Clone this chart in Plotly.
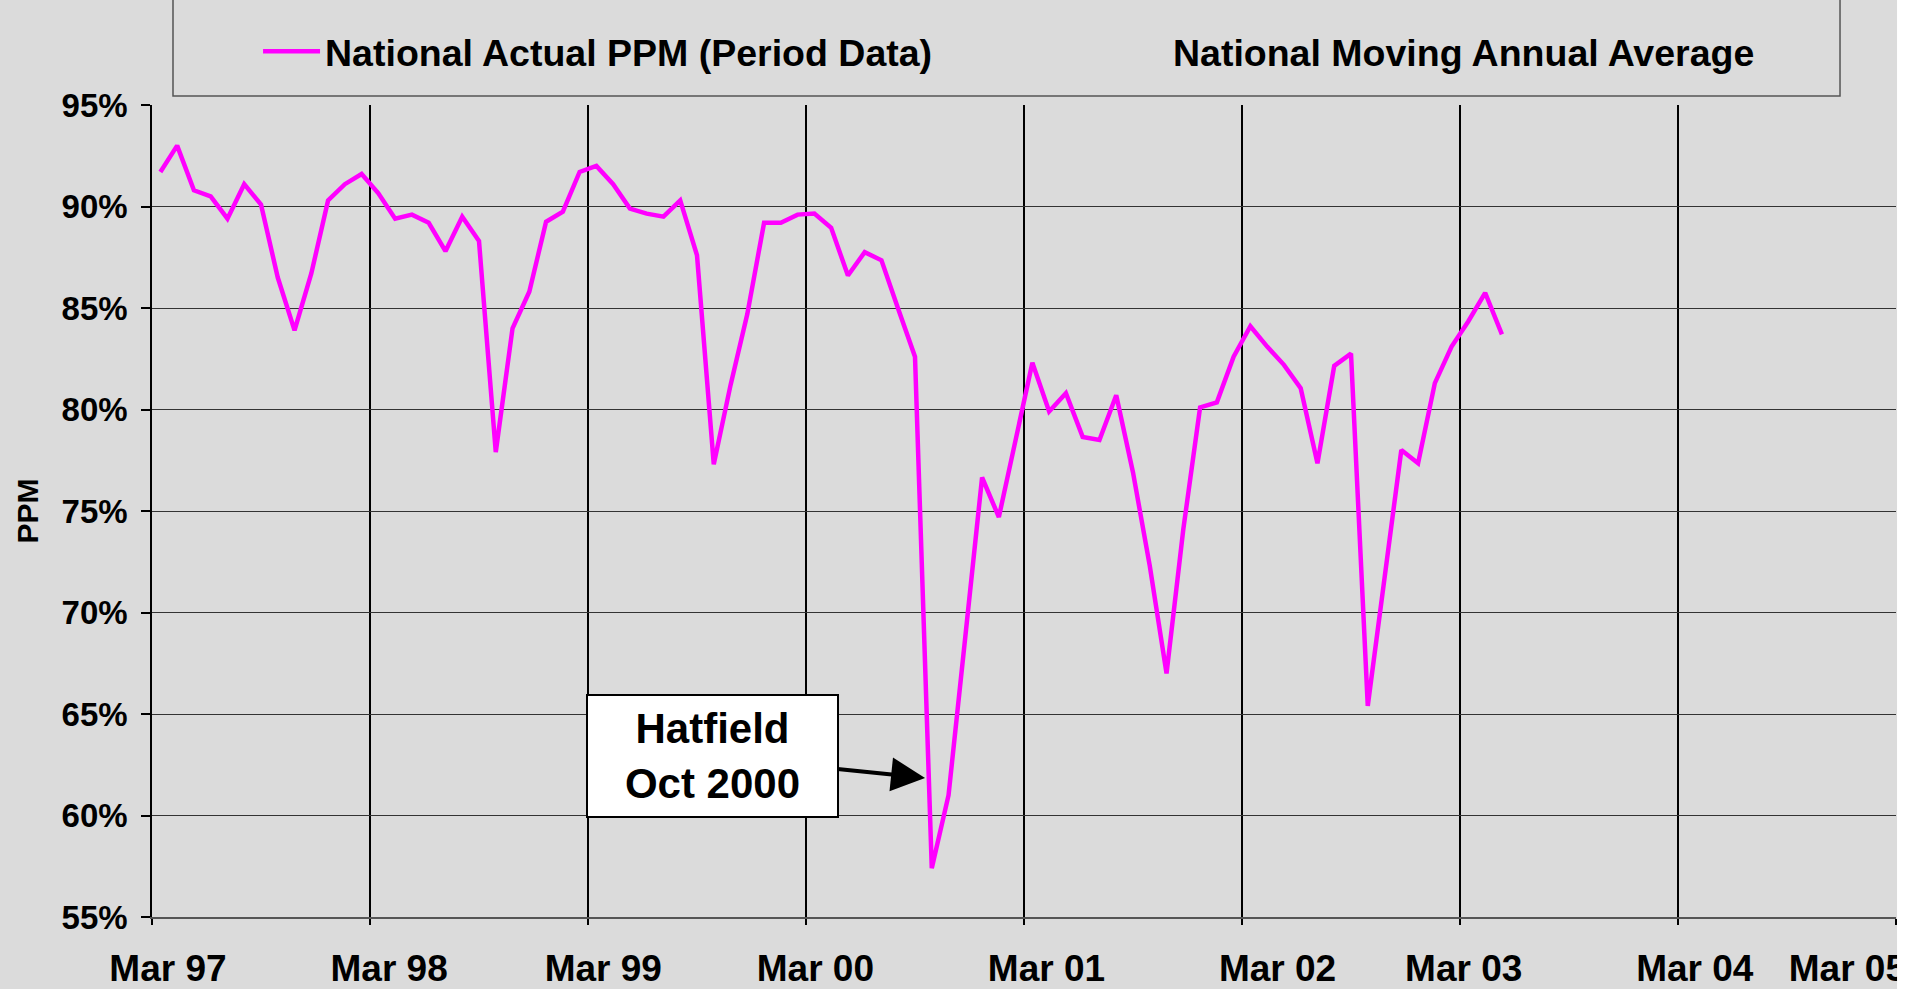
import plotly.graph_objects as go

# ---- data (4-weekly periods, 13 per year, starting Apr 1997) ----
fin_years = ["97/98", "98/99", "99/00", "00/01", "01/02", "02/03", "03/04"]
periods = [f"{fin_years[i // 13]} P{(i % 13) + 1:02d}" for i in range(81)]
ppm_actual = [
    91.7, 93.0, 90.8, 90.5, 89.4, 91.1, 90.1, 86.5, 83.9, 86.7, 90.3, 91.1, 91.6,
    90.65, 89.4, 89.6, 89.2, 87.8, 89.5, 88.3, 77.9, 84.0, 85.8, 89.25, 89.75, 91.7,
    92.0, 91.1, 89.9, 89.65, 89.5, 90.3, 87.6, 77.3, 81.2, 84.7, 89.2, 89.2, 89.6,
    89.65, 88.95, 86.6, 87.75, 87.35, 84.95, 82.6, 57.4, 61.0, 68.8, 76.65, 74.7, 78.6,
    82.3, 79.9, 80.8, 78.65, 78.5, 80.7, 76.9, 72.3, 67.0, 74.1, 80.1, 80.35,
    82.6, 84.1, 83.1, 82.2, 81.05, 77.35, 82.15, 82.75, 65.4, 71.7, 78.0, 77.35,
    81.3, 83.1, 84.35, 85.75, 83.7,
]
moving_annual_avg = [None]  # series listed in the legend but not drawn in the source chart

year_labels = ["Mar 97", "Mar 98", "Mar 99", "Mar 00", "Mar 01", "Mar 02", "Mar 03", "Mar 04", "Mar 05"]
year_label_pos = [0.45, 13.64, 26.41, 39.06, 52.84, 66.62, 77.72, 91.5, 100.6]
year_boundaries = [-0.5 + 13 * k for k in range(9)]

y_ticks = [55, 60, 65, 70, 75, 80, 85, 90, 95]
y_tick_labels = [f"{v}%" for v in y_ticks]

FONT = "Liberation Sans, Arial, sans-serif"
BG = "#DBDBDB"

x_idx = list(range(len(ppm_actual)))

fig = go.Figure()
fig.add_trace(go.Scatter(
    x=x_idx, y=ppm_actual, mode="lines", name="National Actual PPM (Period Data)",
    line=dict(color="#FF00FF", width=4.5), text=periods, xaxis="x", yaxis="y", legend="legend",
))
fig.add_trace(go.Scatter(
    x=moving_annual_avg, y=moving_annual_avg, mode="lines", name="National Moving Annual Average",
    line=dict(color="rgba(0,0,0,0)", width=4), xaxis="x2", yaxis="y", legend="legend2",
    showlegend=True,
))

legend_font = dict(family=FONT, size=37.5, color="black", weight="bold")

fig.update_layout(
    width=1923, height=989,
    margin=dict(l=152, r=27, t=105, b=72, pad=0),
    paper_bgcolor=BG, plot_bgcolor=BG,
    font=dict(family=FONT, color="black", weight="bold"),
    showlegend=True,
    legend=dict(
        orientation="h", x=0.0608, xanchor="left", y=1.066, yanchor="middle",
        font=legend_font, bgcolor="rgba(0,0,0,0)", borderwidth=0, itemwidth=57,
    ),
    legend2=dict(
        orientation="h", x=0.547, xanchor="left", y=1.066, yanchor="middle",
        font=legend_font, bgcolor="rgba(0,0,0,0)", borderwidth=0, itemwidth=57,
    ),
    xaxis=dict(
        range=[-0.5, 103.5], tickmode="array", tickvals=year_boundaries,
        showticklabels=False, ticks="outside", ticklen=6, tickcolor="black", tickwidth=1.5,
        showgrid=True, gridcolor="black", gridwidth=1.5, automargin=False,
        showline=True, linecolor="#555555", linewidth=2, zeroline=False,
    ),
    xaxis2=dict(
        range=[-0.5, 103.5], overlaying="x", anchor="y", side="bottom",
        tickmode="array", tickvals=year_label_pos, ticktext=year_labels,
        ticks="", showgrid=False, showline=False, zeroline=False, automargin=False,
        tickfont=dict(family=FONT, size=37, color="black", weight="bold"),
        ticklabelstandoff=26,
    ),
    yaxis=dict(
        range=[55, 95], tickmode="array", tickvals=y_ticks, ticktext=y_tick_labels,
        ticks="outside", ticklen=9, tickcolor="black", tickwidth=1.5,
        showgrid=True, gridcolor="#333333", gridwidth=1, automargin=False,
        showline=True, linecolor="black", linewidth=1.5, zeroline=False,
        tickfont=dict(family=FONT, size=33, color="black", weight="bold"),
        ticklabelstandoff=7,
        title=dict(text="PPM", font=dict(family=FONT, size=30, color="black", weight="bold"), standoff=14),
    ),
    shapes=[
        # legend frame
        dict(type="rect", xref="paper", yref="paper", x0=0.01204, x1=0.9679, y0=1.0111, y1=1.1823,
             line=dict(color="#555555", width=1.5), fillcolor="rgba(0,0,0,0)", layer="below"),
        # white strip at the right edge of the picture
        dict(type="rect", xref="paper", yref="paper", x0=1.0006, x1=1.05, y0=-0.2, y1=1.3,
             line=dict(width=0), fillcolor="white", layer="above"),
    ],
    annotations=[
        dict(
            x=45.6, y=61.85, xref="x", yref="y", ax=-213, ay=-22, axref="pixel", ayref="pixel",
            text="Hatfield<br>Oct 2000", showarrow=True, arrowhead=2, arrowsize=1.7, arrowwidth=4,
            arrowcolor="black", font=dict(family=FONT, size=42, color="black", weight="bold"),
            bgcolor="white", bordercolor="black", borderwidth=2, borderpad=2,
            width=245, height=116, align="center", valign="middle",
        ),
    ],
)

fig.write_html("out.html", config={"displayModeBar": False},
               post_script="document.body.style.margin='0';")
